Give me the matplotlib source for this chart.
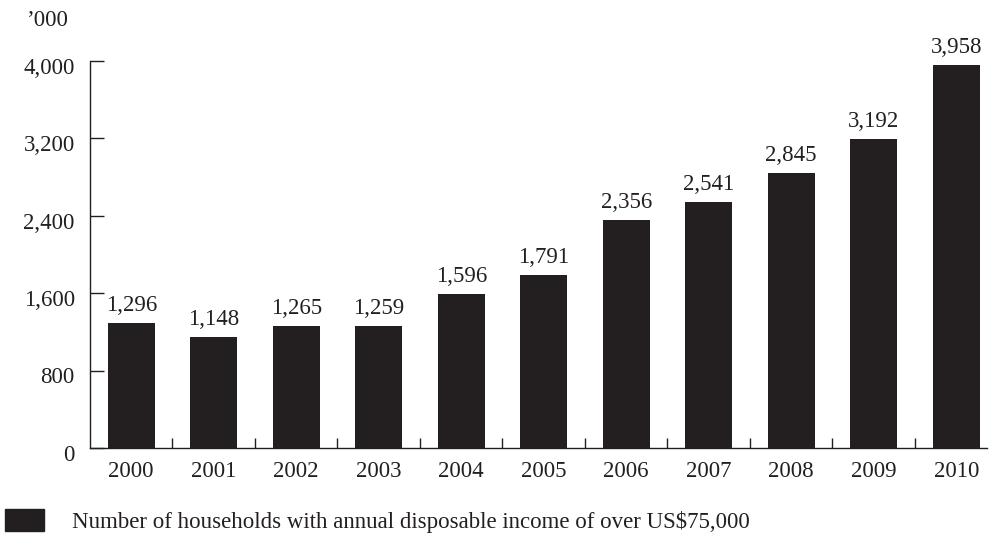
import matplotlib.pyplot as plt
import matplotlib.transforms as mtransforms
from matplotlib.patches import Patch

years = ['2000', '2001', '2002', '2003', '2004', '2005',
         '2006', '2007', '2008', '2009', '2010']
households = [1296, 1148, 1265, 1259, 1596, 1791, 2356, 2541, 2845, 3192, 3958]
y_ticks = [0, 800, 1600, 2400, 3200, 4000]

ink = '#231f20'
plt.rcParams['font.family'] = ['Liberation Serif', 'DejaVu Serif']
plt.rcParams['text.color'] = ink

fig = plt.figure(figsize=(9.92, 5.34), dpi=100)
ax = fig.add_axes([0.0907, 0.161, 0.904, 0.725])

x = range(len(years))
bars = ax.bar(x, households, width=0.57, color=ink)
for b, v in zip(bars, households):
    ax.text(b.get_x() + b.get_width() / 2, v + 70, f'{v:,}',
            ha='center', va='bottom', fontsize=16.5)

ax.set_xlim(-0.5, 10.37)
ax.set_ylim(0, 4000)
ax.set_yticks(y_ticks)
ax.set_yticklabels([f'{t:,}' for t in y_ticks])
ax.set_xticks(list(x))
ax.set_xticklabels(years)
ax.set_xticks([i + 0.5 for i in range(len(years) - 1)], minor=True)

ax.tick_params(axis='y', direction='in', length=10, width=1, pad=11,
               labelsize=16.5, colors=ink)
ax.tick_params(axis='x', which='major', length=0, pad=9,
               labelsize=16.5, colors=ink)
ax.tick_params(axis='x', which='minor', direction='in', length=7, width=1,
               color=ink)

# y labels sit a little below their ticks
shift = mtransforms.ScaledTranslation(0, -3.5 / 72, fig.dpi_scale_trans)
for lbl in ax.get_yticklabels():
    lbl.set_transform(lbl.get_transform() + shift)

for side in ['top', 'right']:
    ax.spines[side].set_visible(False)
for side in ['left', 'bottom']:
    ax.spines[side].set_color(ink)
    ax.spines[side].set_linewidth(1)

fig.text(0.027, 0.962, '\u2019000', fontsize=16.5, va='center', ha='left')

fig.legend(handles=[Patch(color=ink,
                          label='Number of households with annual disposable income of over US$75,000')],
           loc='lower left', bbox_to_anchor=(0.004, 0.0), frameon=False,
           fontsize=16.5, handlelength=1.7, handleheight=1.1,
           handletextpad=1.2, borderpad=0.05, borderaxespad=0)

fig.savefig('out.png')
